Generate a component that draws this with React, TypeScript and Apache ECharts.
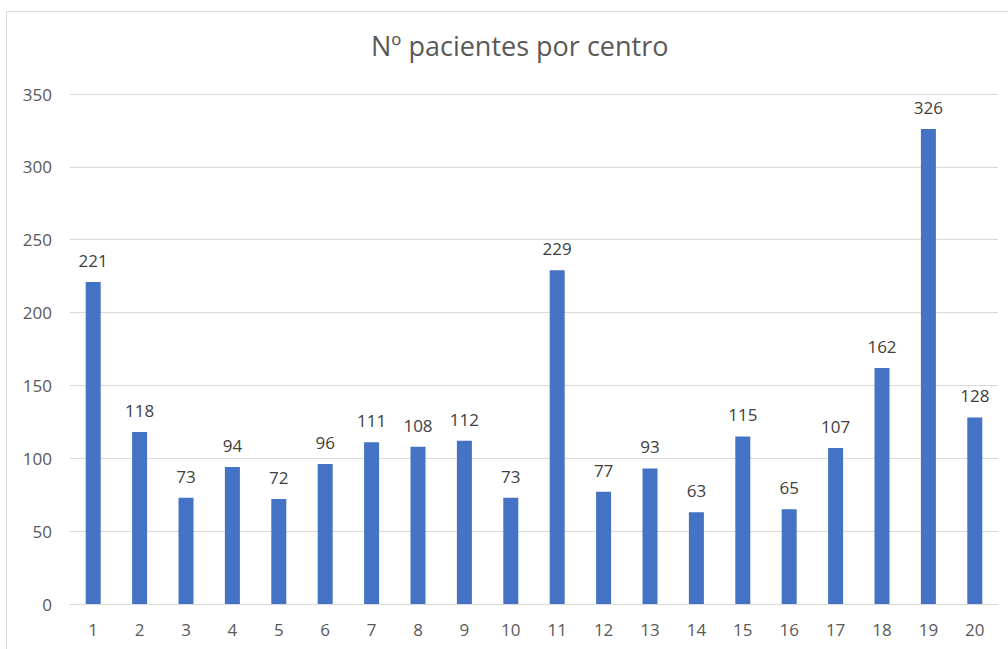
import React, { useEffect, useRef } from "react";
import * as echarts from "echarts";

const categories = ["1","2","3","4","5","6","7","8","9","10","11","12","13","14","15","16","17","18","19","20"];
const patients = [221,118,73,94,72,96,111,108,112,73,229,77,93,63,115,65,107,162,326,128];
const titleText = "Nº pacientes por centro";

export default function App() {
  const ref = useRef<HTMLDivElement>(null);
  useEffect(() => {
    if (!ref.current) return;
    const chart = echarts.init(ref.current, null, { renderer: "svg" });
    const font = "'Open Sans', 'Noto Sans', sans-serif";
    chart.setOption({
      animation: false,
      backgroundColor: "#ffffff",
      title: {
        text: titleText,
        left: 366,
        top: 27,
        textStyle: { color: "#595959", fontSize: 27, fontWeight: "normal", fontFamily: font },
      },
      graphic: [
        {
          type: "rect",
          shape: { x: 6.5, y: 11.5, width: 1100, height: 800 },
          style: { fill: "none", stroke: "#d9d9d9", lineWidth: 1 },
          silent: true,
        },
      ],
      grid: { left: 70, right: 10, top: 94, bottom: 45 },
      xAxis: {
        type: "category",
        data: categories,
        axisLine: { lineStyle: { color: "#d9d9d9" } },
        axisTick: { show: false },
        axisLabel: { color: "#595959", fontSize: 17, margin: 17, fontFamily: font },
      },
      yAxis: {
        type: "value",
        min: 0,
        max: 350,
        interval: 50,
        axisLine: { show: false },
        axisTick: { show: false },
        splitLine: { lineStyle: { color: "#d9d9d9" } },
        axisLabel: { color: "#595959", fontSize: 17, margin: 18, fontFamily: font },
      },
      series: [
        {
          type: "bar",
          data: patients,
          barWidth: 15,
          itemStyle: { color: "#4472c4" },
          label: {
            show: true,
            position: "top",
            distance: 13,
            color: "#404040",
            fontSize: 17,
            fontFamily: font,
          },
        },
      ],
    });
    return () => chart.dispose();
  }, []);
  return (
    <div style={{ position: "fixed", left: 0, top: 0, width: 1008, height: 649, background: "#fff" }}>
      <div ref={ref} style={{ width: 1008, height: 649 }} />
    </div>
  );
}
